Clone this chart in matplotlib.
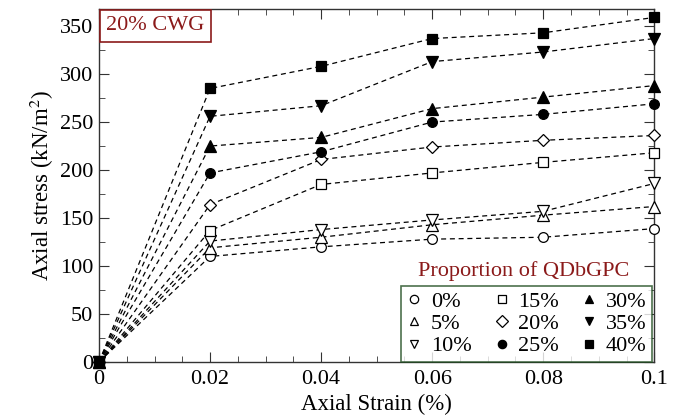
import matplotlib.pyplot as plt
from matplotlib.lines import Line2D
from matplotlib.ticker import MultipleLocator

# 数据
strain = [0, 0.02, 0.04, 0.06, 0.08, 0.1]
labels = ['0%', '5%', '10%', '15%', '20%', '25%', '30%', '35%', '40%']
stress = [
    [0, 110, 120, 128, 130, 139],   # 0%
    [0, 119, 130, 143, 153, 162],   # 5%
    [0, 126, 138, 148, 157, 186],   # 10%
    [0, 137, 185, 197, 208, 218],   # 15%
    [0, 164, 211, 224, 231, 236],   # 20%
    [0, 197, 219, 250, 258, 269],   # 25%
    [0, 225, 234, 264, 276, 288],   # 30%
    [0, 256, 267, 313, 323, 337],   # 35%
    [0, 285, 308, 337, 343, 359],   # 40%
]
markers = ['o', '^', 'v', 's', 'D', 'o', '^', 'v', 's']
filled = [False, False, False, False, False, True, True, True, True]

plt.rcParams['font.family'] = ['Liberation Serif', 'DejaVu Serif']
plt.rcParams['mathtext.fontset'] = 'stix'

fig = plt.figure(figsize=(6.78, 4.19), dpi=100)
ax = fig.add_axes([0.146, 0.136, 0.819, 0.843])

for y, m, f in zip(stress, markers, filled):
    ms = {'o': 7, 's': 7.5, 'D': 6.5}.get(m, 8)
    ax.plot(strain, y, linestyle=(0, (4, 3)), color='black', lw=0.9,
            marker=m, markersize=ms,
            markerfacecolor='black' if f else 'white',
            markeredgecolor='black', markeredgewidth=0.9, clip_on=False, zorder=3)

ax.set_xlim(0, 0.1)
ax.set_ylim(0, 368)
ax.xaxis.set_major_locator(MultipleLocator(0.02))
ax.xaxis.set_minor_locator(MultipleLocator(0.005))
ax.yaxis.set_major_locator(MultipleLocator(50))
ax.yaxis.set_minor_locator(MultipleLocator(25))
ax.set_xticks([0, 0.02, 0.04, 0.06, 0.08, 0.1])
ax.set_xticklabels(['0', '0.02', '0.04', '0.06', '0.08', '0.1'])
ax.tick_params(which='both', direction='in', top=True, right=True, labelsize=16, color='#333333')
ax.tick_params(which='major', length=7)
ax.tick_params(axis='x', which='major', pad=6)
ax.tick_params(axis='y', which='major', pad=4)
ax.tick_params(which='minor', length=4)
for s in ax.spines.values():
    s.set_linewidth(1.0)
    s.set_color('#333333')

ax.set_xlabel('Axial Strain (%)', fontsize=16.5, labelpad=3)
ax.set_ylabel('Axial stress (kN/m$^2$)', fontsize=16.5, labelpad=3)

# 左上角标注
ax.text(0.013, 0.979, '20% CWG', transform=ax.transAxes, fontsize=16, color='#8b1a1a',
        va='top', ha='left',
        bbox=dict(boxstyle='square,pad=0.3', facecolor='white', edgecolor='#8b1a1a', lw=1.2))

# 图例
handles = [Line2D([], [], linestyle='none', marker=m, markersize=6,
                  markerfacecolor='black' if f else 'white', markeredgecolor='black',
                  markeredgewidth=0.9) for m, f in zip(markers, filled)]
leg = ax.legend(handles, labels, ncol=3, loc='lower right', bbox_to_anchor=(0.996, 0.0),
                fontsize=16, frameon=True, fancybox=False, handlelength=0.7,
                handletextpad=0.4, columnspacing=1.0, labelspacing=0.08,
                borderpad=0.25, borderaxespad=0.0)
leg.get_frame().set_edgecolor('#1f4d1f')
leg.get_frame().set_linewidth(1.2)
ax.text(0.764, 0.258, 'Proportion of QDbGPC', transform=ax.transAxes, fontsize=16,
        color='#8b1a1a', ha='center', va='center')

fig.savefig('out.png', dpi=100)
plt.close(fig)
